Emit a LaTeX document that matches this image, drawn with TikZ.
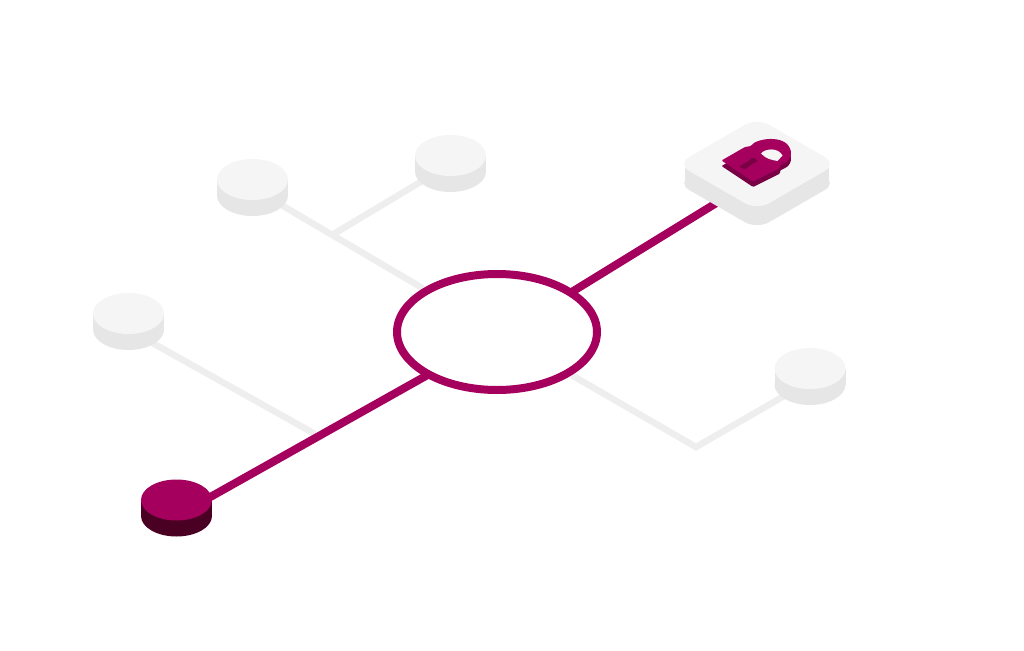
\documentclass[tikz,border=0pt]{standalone}
\usetikzlibrary{shapes.geometric, backgrounds}

\definecolor{hubred}{HTML}{A5005E}
\definecolor{darkred}{HTML}{4A0022}
\definecolor{lockside}{HTML}{7A0046}
\definecolor{disktopc}{HTML}{F5F5F5}
\definecolor{disksidec}{HTML}{E6E6E6}
\definecolor{linegrey}{HTML}{EEEEEE}

\begin{document}
\begin{tikzpicture}[
  x=1pt, y=-1pt,
  disk/.style={ellipse, inner sep=0pt, minimum width=71pt, minimum height=41pt},
  plate/.style={diamond, inner sep=0pt, aspect=1.73, minimum width=160pt,
                minimum height=92.5pt, rounded corners=14pt},
  hubring/.style={ellipse, draw=hubred, fill=white, line width=8pt, inner sep=0pt,
                  minimum width=200pt, minimum height=116pt},
  greyline/.style={draw=linegrey, line width=6.5pt},
  redline/.style={draw=hubred, line width=8pt}
]
  \useasboundingbox (0,0) rectangle (1024,650);

  \node[hubring] (hub) at (497,332) {};
  \coordinate (hubr) at (497,338);
  \coordinate (hubl) at (497,336);

  % Grey disks
  \foreach \name/\px/\py/\off in {topl/252.5/179.5/8.5, topr/450.5/155.5/8.5, left/128.5/313.5/16, right/810/368.5/12.5} {
    \node[disk, fill=disksidec] (\name-b) at (\px,\py+16) {};
    \fill[disksidec] (\px-35.5,\py) rectangle (\px+35.5,\py+16);
    \node[disk, fill=disktopc] (\name) at (\px,\py) {};
    \coordinate (\name-c) at (\px,\py+\off);
  }

  % Red disk
  \node[disk, fill=darkred] (src-b) at (176.5,516) {};
  \fill[darkred] (141,500) rectangle (212,516);
  \node[disk, fill=hubred] (src) at (176.5,500) {};

  % Lock plate
  \node[plate, fill=disksidec] (plate-b) at (757,183) {};
  \fill[disksidec] (685,164) rectangle (829,183);
  \node[plate, fill=disktopc] (plate) at (757,164) {};
  \coordinate (plate-c) at (757,178);

  % Connectors
  \coordinate (jtop) at (332,235);
  \coordinate (jleft) at (315,434);
  \coordinate (jright) at (696,447);
  \begin{scope}[on background layer]
    \draw[greyline] (topl-c) -- (hub);
    \draw[greyline] (jtop) -- (topr-c);
    \draw[greyline] (left-c) -- (jleft);
    \draw[greyline, line join=miter] (hub) -- (jright) -- (right-c);
    \draw[redline] (hubl) -- (src-b);
    \draw[redline] (hubr) -- (plate-c);
  \end{scope}

  % Padlock
  \foreach \dy/\col in {5.5/lockside, 0/hubred} {
    \fill[\col, yshift=-\dy pt, rounded corners=1pt] (721.5,160.5) -- (745,147) -- (751,146)
      .. controls (756,138.5) and (785,134) .. (790.5,150)
      .. controls (792,156) and (789,160) .. (786,162)
      -- (780,165) -- (780,168) -- (753,181.5) -- cycle;
  }
  \fill[disktopc] (761,153.5) .. controls (765,148.5) and (778,147) .. (782.5,155.5)
    -- (777.5,161) .. controls (772,160) and (766,159) .. (761,153.5) -- cycle;
  \fill[lockside] (753.3,160.5) ellipse (4 and 2.6);
  \fill[lockside] (751,159.5) -- (739,166.7) -- (745,169.3) -- (755,162) -- cycle;
\end{tikzpicture}
\end{document}
